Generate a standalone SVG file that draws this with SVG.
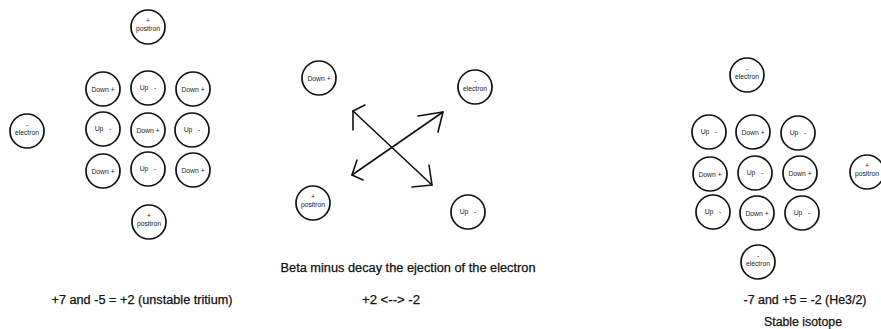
<svg xmlns="http://www.w3.org/2000/svg" width="881" height="329" viewBox="0 0 881 329">
<style>
.p{fill:#fff;stroke:#111;stroke-width:1.7}
.l{font-family:"Liberation Sans",Arial,sans-serif;font-size:6.8px;fill:#222;text-anchor:middle;white-space:pre}
.t{font-family:"Liberation Sans",Arial,sans-serif;font-size:12px;fill:#111;text-anchor:middle;stroke:#111;stroke-width:0.25}
.a{fill:none;stroke:#111;stroke-width:1.6;stroke-linecap:round;stroke-linejoin:round}
</style>
<defs>
<g id="dn"><circle class="p" r="17"/><text class="l" y="2.5">Down +</text></g>
<g id="up"><circle class="p" r="17"/><text class="l" y="1.5">Up   -</text></g>
<g id="po"><circle class="p" r="17"/><text class="l" y="-4">+</text><text class="l" y="4">positron</text></g>
<g id="el"><circle class="p" r="17"/><text class="l" y="-4">-</text><text class="l" y="4">electron</text></g>
</defs>
<g id="left">
<g id="L-pos-top"><use href="#po" x="148" y="27"/></g>
<g id="L-el"><use href="#el" x="27" y="131"/></g>
<g id="L-r1c1"><use href="#dn" x="103" y="89"/></g>
<g id="L-r1c2"><use href="#up" x="148" y="88"/></g>
<g id="L-r1c3"><use href="#dn" x="193" y="89"/></g>
<g id="L-r2c1"><use href="#up" x="103" y="129"/></g>
<g id="L-r2c2"><use href="#dn" x="148" y="130"/></g>
<g id="L-r2c3"><use href="#up" x="192" y="130"/></g>
<g id="L-r3c1"><use href="#dn" x="103" y="171"/></g>
<g id="L-r3c2"><use href="#up" x="148" y="169"/></g>
<g id="L-r3c3"><use href="#dn" x="193" y="170"/></g>
<g id="L-pos-bot"><use href="#po" x="149" y="222"/></g>
</g>
<g id="middle">
<g id="M-down"><use href="#dn" x="319" y="78"/></g>
<g id="M-el"><use href="#el" x="475" y="87"/></g>
<g id="M-pos"><use href="#po" x="313" y="203"/></g>
<g id="M-up"><use href="#up" x="468" y="212"/></g>
</g>
<g id="right">
<g id="R-el-top"><use href="#el" x="747" y="75"/></g>
<g id="R-r1c1"><use href="#up" x="709" y="132"/></g>
<g id="R-r1c2"><use href="#dn" x="753" y="132"/></g>
<g id="R-r1c3"><use href="#up" x="798" y="133"/></g>
<g id="R-r2c1"><use href="#dn" x="710" y="174"/></g>
<g id="R-r2c2"><use href="#up" x="755" y="173"/></g>
<g id="R-r2c3"><use href="#dn" x="800" y="173"/></g>
<g id="R-pos"><use href="#po" x="867" y="172"/></g>
<g id="R-r3c1"><use href="#up" x="713" y="212"/></g>
<g id="R-r3c2"><use href="#dn" x="757" y="213"/></g>
<g id="R-r3c3"><use href="#up" x="802" y="213"/></g>
<g id="R-el-bot"><use href="#el" x="758" y="262"/></g>
</g>
<g id="connectors">
<path class="a" d="M353,111 L432,185"/>
<path class="a" d="M365,105 L353,111 L353,130"/>
<path class="a" d="M412,187 L432,185 L429,165"/>
<path class="a" d="M352,175 L443,112"/>
<path class="a" d="M363,180 L352,175 L357,160"/>
<path class="a" d="M418,116 L443,112 L438,132"/>
</g>
<g id="texts">
<text class="t" x="408" y="272" textLength="255" lengthAdjust="spacingAndGlyphs">Beta minus decay the ejection of the electron</text>
<text class="t" x="142" y="304" textLength="181" lengthAdjust="spacingAndGlyphs">+7 and -5 = +2 (unstable tritium)</text>
<text class="t" x="391" y="304" textLength="58" lengthAdjust="spacingAndGlyphs">+2 &lt;--&gt; -2</text>
<text class="t" x="805" y="304" textLength="123" lengthAdjust="spacingAndGlyphs">-7 and +5 = -2 (He3/2)</text>
<text class="t" x="803" y="326" textLength="78" lengthAdjust="spacingAndGlyphs">Stable isotope</text>
</g>
</svg>
